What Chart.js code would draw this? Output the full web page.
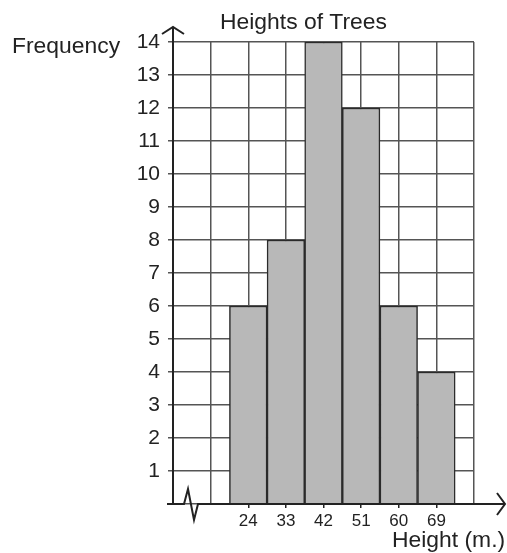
<!DOCTYPE html>
<html>
<head>
<meta charset="utf-8">
<title>Heights of Trees</title>
<script src="https://cdn.jsdelivr.net/npm/chart.js@4.4.1/dist/chart.umd.min.js"></script>
<style>
  body { margin: 0; background: #fff; }
  #wrap { width: 507px; height: 553px; }
</style>
</head>
<body>
<div id="wrap"><canvas id="myChart"></canvas></div>
<script>
// data
var heights = [24, 33, 42, 51, 60, 69];
var frequency = [6, 8, 14, 12, 6, 4];
var xMin = 6, xMax = 78, xStep = 9;
var yMax = 14;

var FONT = "'Liberation Sans', Arial, sans-serif";
var INK = '#222';

var points = heights.map(function (h, i) { return { x: h, y: frequency[i] }; });

// texts, axes arrows and the axis break
var decor = {
  id: 'decor',
  afterDatasetsDraw: function (chart) {
    var ctx = chart.ctx, a = chart.chartArea;
    ctx.save();
    ctx.strokeStyle = INK;
    ctx.lineWidth = 2;
    // y axis with arrow
    ctx.beginPath();
    ctx.moveTo(a.left, a.bottom);
    ctx.lineTo(a.left, a.top - 15);
    ctx.moveTo(a.left - 11, a.top - 8);
    ctx.lineTo(a.left, a.top - 15);
    ctx.lineTo(a.left + 11, a.top - 8);
    ctx.stroke();
    // x axis with break and arrow
    var y0 = a.bottom;
    ctx.beginPath();
    ctx.moveTo(a.left - 6, y0);
    ctx.lineTo(a.left + 11, y0);
    ctx.lineTo(a.left + 15, y0 - 15);
    ctx.lineTo(a.left + 21, y0 + 16);
    ctx.lineTo(a.left + 25, y0);
    ctx.lineTo(a.right + 31, y0);
    ctx.moveTo(a.right + 23, y0 - 11);
    ctx.lineTo(a.right + 31, y0);
    ctx.lineTo(a.right + 23, y0 + 11);
    ctx.stroke();

    ctx.fillStyle = INK;
    ctx.textBaseline = 'alphabetic';
    ctx.font = '22px ' + FONT;
    function txt(s, x, y) {
      ctx.save();
      ctx.translate(x, y);
      ctx.scale(1.04, 1);
      ctx.fillText(s, 0, 0);
      ctx.restore();
    }
    txt('Heights of Trees', 220, 29);
    txt('Frequency', 12, 53);
    txt('Height (m.)', 392, 547);
    ctx.restore();
  }
};

var ctx = document.getElementById('myChart').getContext('2d');
var chart = new Chart(ctx, {
  type: 'bar',
  data: {
    datasets: [{
      data: points,
      backgroundColor: '#b8b8b8',
      borderColor: '#2a2a2a',
      borderWidth: 1.5,
      barPercentage: 1,
      categoryPercentage: 1
    }]
  },
  options: {
    responsive: true,
    maintainAspectRatio: false,
    animation: false,
    layout: { padding: { top: 42, right: 33, bottom: 0, left: 0 } },
    plugins: { legend: { display: false }, tooltip: { enabled: false } },
    scales: {
      x: {
        type: 'linear',
        min: xMin,
        max: xMax,
        offset: false,
        grid: {
          offset: false,
          color: '#555',
          lineWidth: 1.5,
          tickLength: 4,
          tickColor: function (c) {
            return heights.indexOf(c.tick && c.tick.value) >= 0 ? INK : 'rgba(0,0,0,0)';
          }
        },
        border: { display: false },
        ticks: {
          stepSize: xStep,
          autoSkip: false,
          maxRotation: 0,
          padding: 3,
          color: INK,
          font: { family: FONT, size: 17 },
          callback: function (v) { return heights.indexOf(v) >= 0 ? String(v) : ''; }
        },
        afterFit: function (s) { s.height = 49; }
      },
      y: {
        min: 0,
        max: yMax,
        grid: { color: '#555', lineWidth: 1.5, tickLength: 5, tickColor: '#555' },
        border: { display: false },
        ticks: {
          stepSize: 1,
          padding: 8,
          color: INK,
          font: { family: FONT, size: 21 },
          callback: function (v) { return v === 0 ? '' : v; }
        },
        afterFit: function (s) { s.width = 173; }
      }
    }
  },
  plugins: [decor]
});
</script>
</body>
</html>
